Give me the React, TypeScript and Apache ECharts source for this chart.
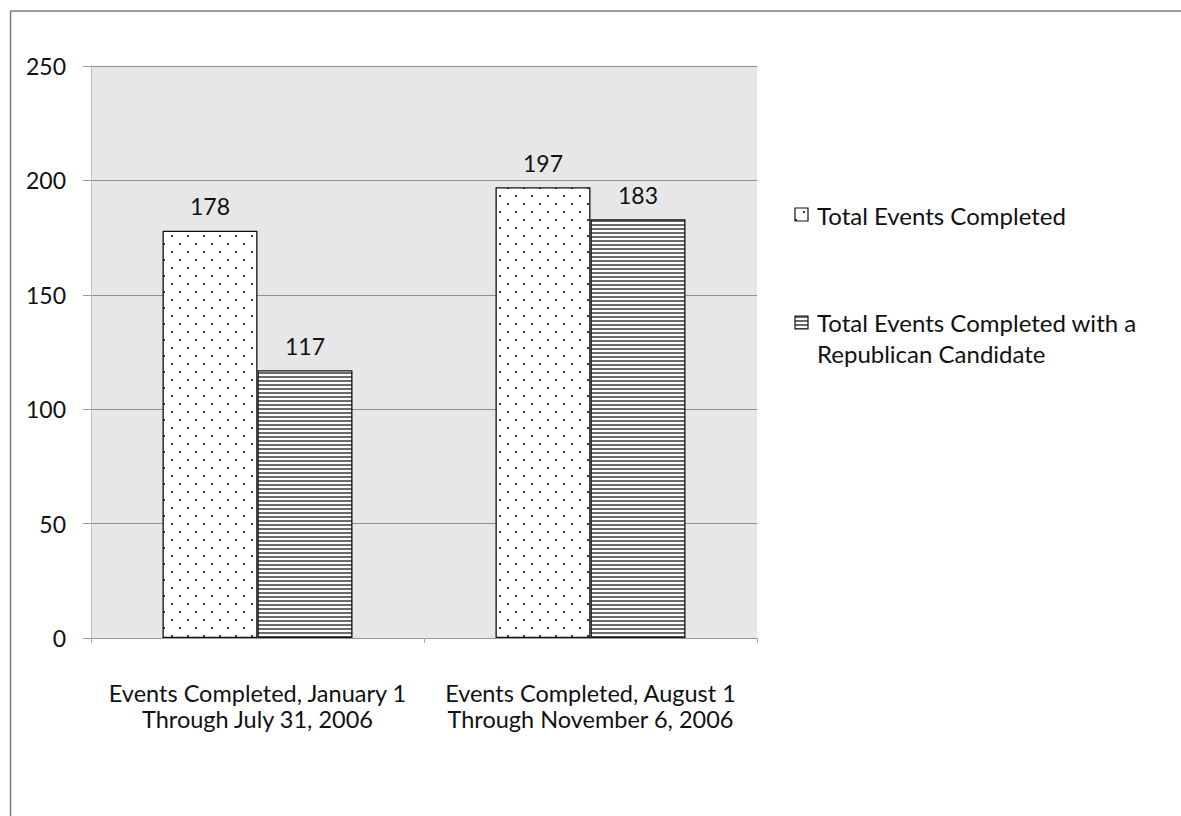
import React, { useEffect, useRef } from "react";
import * as echarts from "echarts";

const categories = [
  "Events Completed, January 1\nThrough July 31, 2006",
  "Events Completed, August 1\nThrough November 6, 2006",
];
const seriesNames = [
  "Total Events Completed",
  "Total Events Completed with a\nRepublican Candidate",
];
const totalEvents = [178, 197];
const republicanEvents = [117, 183];
const yMin = 0;
const yMax = 250;
const yInterval = 50;

const FONT = "Lato, 'Open Sans', sans-serif";

function dotPattern(): HTMLCanvasElement {
  const c = document.createElement("canvas");
  c.width = 16;
  c.height = 16;
  const ctx = c.getContext("2d")!;
  ctx.fillStyle = "#ffffff";
  ctx.fillRect(0, 0, 16, 16);
  ctx.fillStyle = "#111111";
  ctx.beginPath();
  ctx.arc(4, 4, 1.1, 0, Math.PI * 2);
  ctx.arc(12, 12, 1.1, 0, Math.PI * 2);
  ctx.fill();
  return c;
}

function stripePattern(): HTMLCanvasElement {
  const c = document.createElement("canvas");
  c.width = 8;
  c.height = 4;
  const ctx = c.getContext("2d")!;
  ctx.fillStyle = "#ffffff";
  ctx.fillRect(0, 0, 8, 4);
  ctx.fillStyle = "#6a6a6a";
  ctx.fillRect(0, 0, 8, 2);
  return c;
}

export default function App() {
  const ref = useRef<HTMLDivElement>(null);
  useEffect(() => {
    if (!ref.current) return;
    const chart = echarts.init(ref.current, undefined, { renderer: "svg" });
    const dots = { image: dotPattern(), repeat: "repeat" } as any;
    const stripes = { image: stripePattern(), repeat: "repeat" } as any;
    const label = {
      show: true,
      position: "top",
      distance: 13,
      fontSize: 23,
      color: "#111",
      fontFamily: FONT,
    };
    chart.setOption({
      animation: false,
      backgroundColor: "#ffffff",
      grid: {
        left: 91,
        top: 66,
        right: 424,
        bottom: 178,
        show: true,
        backgroundColor: "#e7e7e7",
        borderWidth: 0,
      },
      xAxis: {
        type: "category",
        data: categories,
        axisLine: { show: true, lineStyle: { color: "#9a9a9a", width: 1 } },
        axisTick: { show: true, length: 5, lineStyle: { color: "#aaa" } },
        axisLabel: {
          interval: 0,
          hideOverlap: false,
          fontSize: 23.5,
          lineHeight: 26,
          margin: 42,
          color: "#111",
          fontFamily: FONT,
        },
      },
      yAxis: {
        type: "value",
        min: yMin,
        max: yMax,
        interval: yInterval,
        axisLine: { show: true, lineStyle: { color: "#bdbdbd", width: 1 } },
        axisTick: { show: true, length: 8, lineStyle: { color: "#9a9a9a" } },
        axisLabel: {
          fontSize: 23,
          margin: 25,
          color: "#111",
          fontFamily: FONT,
        },
        splitLine: { show: true, lineStyle: { color: "#8e8e8e", width: 1 } },
      },
      series: [
        {
          name: seriesNames[0],
          type: "bar",
          data: totalEvents,
          barWidth: 95,
          barGap: "0%",
          itemStyle: { color: dots, borderColor: "#111", borderWidth: 1.3 },
          label,
        },
        {
          name: seriesNames[1],
          type: "bar",
          data: republicanEvents,
          barWidth: 95,
          barGap: "0%",
          itemStyle: { color: stripes, borderColor: "#111", borderWidth: 1.3 },
          label,
        },
      ],
      graphic: [
        {
          type: "line",
          shape: { x1: 10.5, y1: 11, x2: 1181, y2: 11 },
          style: { stroke: "#7a7a7a", lineWidth: 1.5 },
        },
        {
          type: "line",
          shape: { x1: 10.5, y1: 11, x2: 10.5, y2: 816 },
          style: { stroke: "#7a7a7a", lineWidth: 1.5 },
        },
        {
          type: "rect",
          shape: { x: 795, y: 208, width: 13, height: 13 },
          style: { fill: dots, stroke: "#111", lineWidth: 1.2 },
        },
        {
          type: "text",
          x: 817,
          y: 215,
          style: {
            text: seriesNames[0],
            fontSize: 24,
            fontFamily: FONT,
            fill: "#111",
            verticalAlign: "middle",
          },
        },
        {
          type: "rect",
          shape: { x: 795, y: 316, width: 13, height: 13 },
          style: { fill: stripes, stroke: "#111", lineWidth: 1.2 },
        },
        {
          type: "text",
          x: 817,
          y: 307,
          style: {
            text: seriesNames[1],
            fontSize: 24,
            lineHeight: 31,
            fontFamily: FONT,
            fill: "#111",
            verticalAlign: "top",
          },
        },
      ],
    });
    return () => chart.dispose();
  }, []);
  return (
    <div
      ref={ref}
      style={{ position: "fixed", left: 0, top: 0, width: 1181, height: 816 }}
    />
  );
}
